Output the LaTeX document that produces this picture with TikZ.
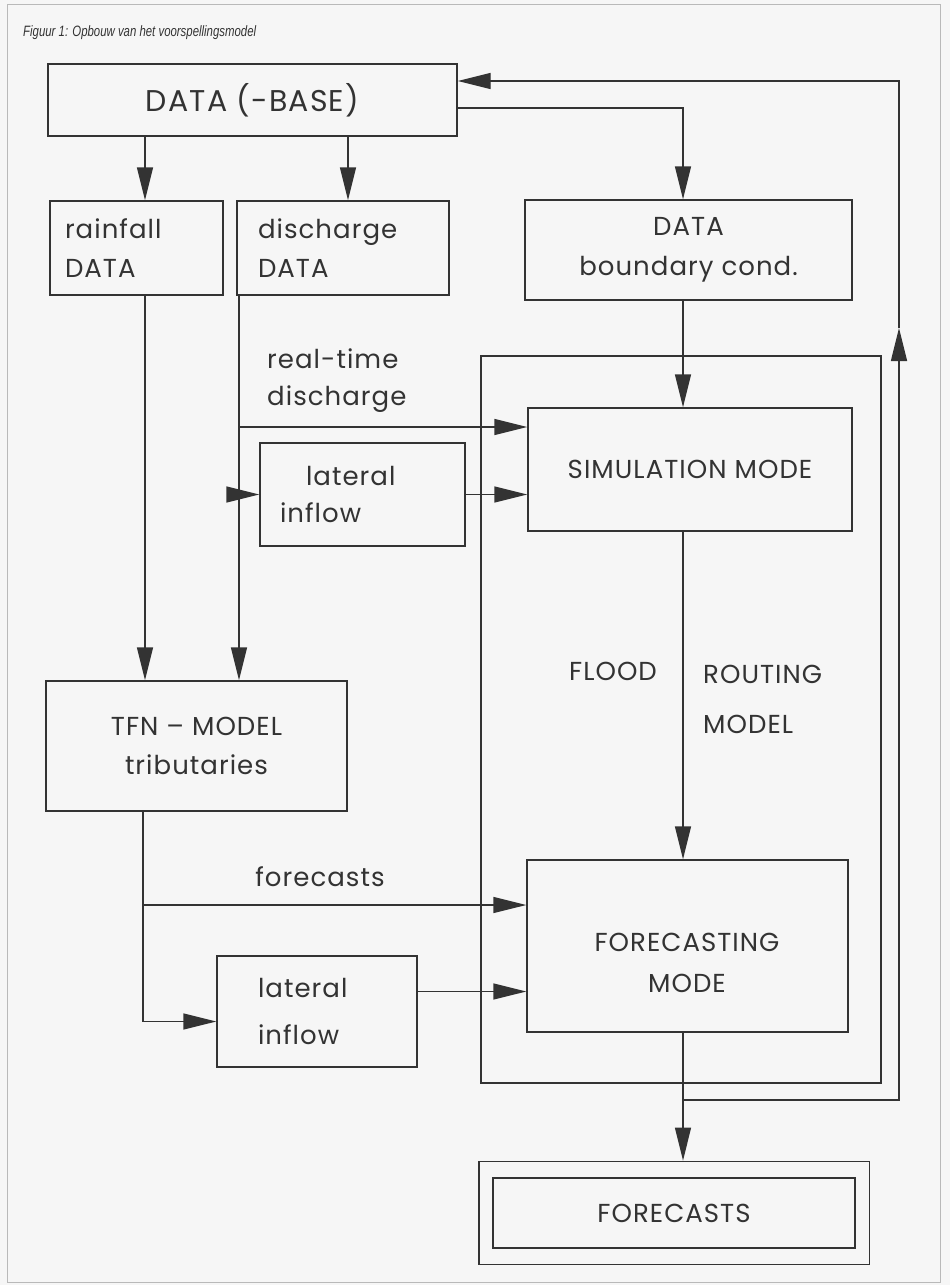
\documentclass[tikz,border=0pt]{standalone}
\usepackage{fontspec}
\setmainfont{Poppins}[LetterSpace=4]
\newfontfamily\capfont{Liberation Sans}[FakeStretch=0.76]
\usepackage{tikz}
\usetikzlibrary{arrows.meta,positioning,fit,calc}
\definecolor{ink}{HTML}{333333}
\definecolor{paper}{HTML}{F6F6F6}
\newcommand\boxfont{\fontsize{26}{39}\selectfont}

\begin{document}
\begin{tikzpicture}[
    x=1pt, y=-1pt,
    every node/.style={text=ink, inner sep=0pt},
    box/.style={rectangle, draw=ink, line width=1.4pt, align=center, font=\boxfont},
    lbl/.style={align=left, font=\boxfont},
    arrow/.style={-{Triangle[length=33pt,width=16pt]}, draw=ink, line width=1.4pt}
]
    \fill[paper] (0,0) rectangle (950,1285);
    \draw[gray!55, line width=1pt] (7,4) rectangle (940,1282);

    \node[anchor=west, font=\capfont\itshape\fontsize{15}{18}\selectfont] (caption) at (23,33) {Figuur 1: Opbouw van het voorspellingsmodel};

    \node[box, minimum width=409pt, minimum height=72pt, font=\fontsize{30}{36}\selectfont] (database) at (252.5,100) {DATA (-BASE)};
    \node[box, text width=143pt, inner xsep=15pt, minimum height=94pt, align=left] (rain) at (136.5,248) {rainfall\\DATA};
    \node[box, text width=170pt, inner xsep=21pt, minimum height=94pt, align=left] (dis) at (343,248) {discharge\\DATA};
    \node[box, minimum width=327pt, minimum height=100pt, font=\fontsize{26}{40}\selectfont] (bound) at (688.5,250) {DATA\\boundary cond.};
    \node[box, minimum width=324pt, minimum height=123pt] (sim) at (690,469.5) {SIMULATION MODE};
    \node[box, text width=165pt, inner xsep=20pt, minimum height=103pt, align=left, font=\fontsize{26}{37}\selectfont] (lat1) at (362.5,494.5) {\hspace*{26pt}lateral\\inflow};
    \node[box, minimum width=301pt, minimum height=130pt] (tfn) at (196.5,746) {TFN -- MODEL\\tributaries};
    \node[box, text width=118pt, inner xsep=41pt, minimum height=111pt, align=left, font=\fontsize{26}{47}\selectfont] (lat2) at (317,1011.5) {lateral\\inflow};
    \node[box, minimum width=321pt, minimum height=172pt] (fcmode) at (687.5,946) {};
    \node[align=center, font=\fontsize{26}{41}\selectfont] (fctext) at (687,963) {FORECASTING\\MODE};
    \node[box, minimum width=362pt, minimum height=70pt] (fcin) at (674,1213) {FORECASTS};
    \node[box, fit=(fcin), inner xsep=13.5pt, inner ysep=16pt] (fcout) {};
    \node[draw=ink, line width=1.4pt, minimum width=400pt, minimum height=727pt] (routing) at (681,719.5) {};

    \node[lbl, anchor=west, font=\fontsize{26}{37}\selectfont] (rtlabel) at (267,381) {real-time\\discharge};
    \node[lbl] (floodlabel) at (613,671) {FLOOD};
    \node[lbl, anchor=west, font=\fontsize{26}{50}\selectfont] (routinglabel) at (703,699) {ROUTING\\MODEL};
    \node[lbl] (fclabel) at (320,877) {forecasts};

    \coordinate (rainx) at (145,0);
    \coordinate (disx) at (239,0);
    \coordinate (disin) at (348,0);
    \coordinate (mainx) at (683,0);
    \coordinate (tfnx) at (143,0);
    \coordinate (rtsplit) at (239,427);
    \coordinate (fcsplit) at (143,905);
    \coordinate (fbsplit) at (683,1100);
    \coordinate (fbup) at (899,328);

    \draw[arrow] (database.south -| rainx) -- (rain.north -| rainx);
    \draw[arrow] (database.south -| disin) -- (dis.north -| disin);
    \draw[arrow] ([yshift=-8pt]database.east) -| (bound.north -| mainx);
    \draw[arrow] (rain.south -| rainx) -- (tfn.north -| rainx);
    \draw[arrow] (dis.south -| disx) -- (tfn.north -| disx);
    \draw[arrow] (rtsplit) -- (rtsplit -| sim.west);
    \draw[arrow] (lat1.west -| disx) -- (lat1.west);
    \draw[arrow] (lat1.east) -- (lat1.east -| sim.west);
    \draw[arrow] (bound.south -| mainx) -- (sim.north -| mainx);
    \draw[arrow] (sim.south -| mainx) -- (fcmode.north -| mainx);
    \draw[arrow] (tfn.south -| tfnx) |- ([yshift=-10pt]lat2.west);
    \draw[arrow] (fcsplit) -- (fcsplit -| fcmode.west);
    \draw[arrow] ([yshift=20pt]lat2.east) -- ([yshift=20pt]lat2.east -| fcmode.west);
    \draw[arrow] (fcmode.south -| mainx) -- (fcout.north -| mainx);
    \draw[arrow] (fbsplit) -| (fbup);
    \draw[arrow] (fbup) |- ([yshift=19pt]database.east);
\end{tikzpicture}
\end{document}
